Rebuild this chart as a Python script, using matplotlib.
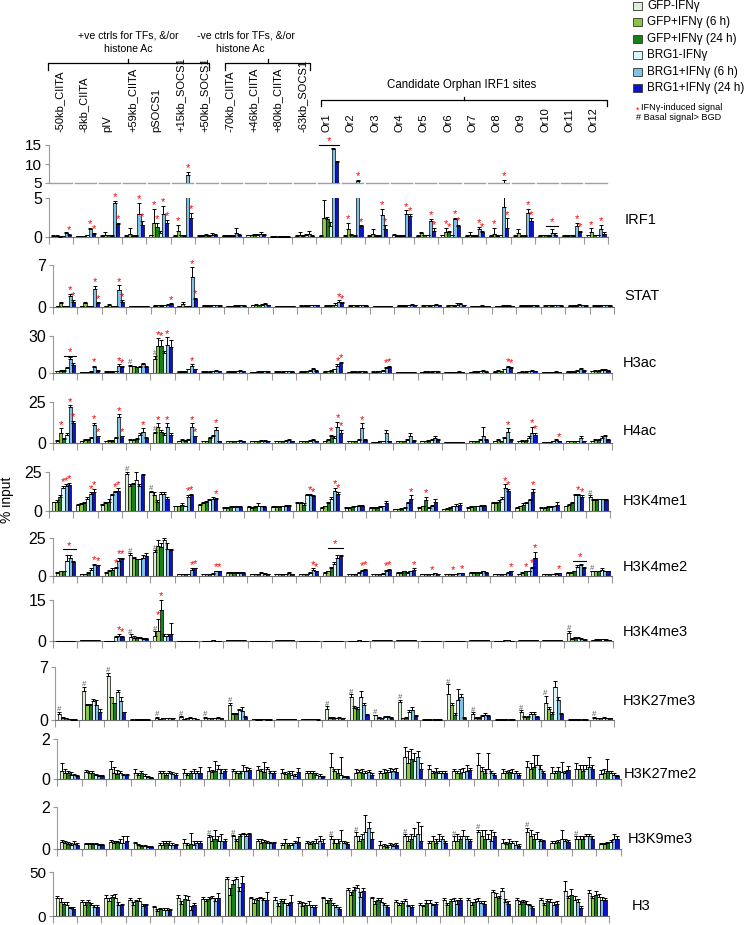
import numpy as np
import matplotlib.pyplot as plt
from matplotlib import font_manager
from matplotlib.patches import Rectangle

names = {f.name for f in font_manager.fontManager.ttflist}
narrow = 'Liberation Sans Narrow' if 'Liberation Sans Narrow' in names else 'Liberation Sans'
plt.rcParams['font.family'] = ['Liberation Sans', 'DejaVu Sans']

sites = ['-50kb_CIITA', '-8kb_CIITA', 'pIV', '+59kb_CIITA', 'pSOCS1', '+15kb_SOCS1', '+50kb_SOCS1',
         '-70kb_CIITA', '+46kb_CIITA', '+80kb_CIITA', '-63kb_SOCS1',
         'Or1', 'Or2', 'Or3', 'Or4', 'Or5', 'Or6', 'Or7', 'Or8', 'Or9', 'Or10', 'Or11', 'Or12']
conditions = ['GFP-IFNγ', 'GFP+IFNγ (6 h)', 'GFP+IFNγ (24 h)', 'BRG1-IFNγ', 'BRG1+IFNγ (6 h)', 'BRG1+IFNγ (24 h)']
colors = ['#dcf0d8', '#8cc63f', '#17801a', '#dcf4f7', '#80c2e6', '#0d14c8']

# each row = one site, 6 conditions
irf1_val = [[0.1,0.1,0.05,0.1,0.5,0.3],[0.1,0.1,0.1,0.2,1.0,0.4],[0.1,0.3,0.2,0.1,4.3,1.7],[0.1,0.4,0.1,0.1,3.0,1.5],
            [0.2,1.8,1.3,0.5,2.9,1.8],[0.1,0.8,0.2,0.1,7.0,2.5],[0.1,0.1,0.2,0.1,0.3,0.2],[0.1,0.1,0.1,0.1,0.5,0.2],
            [0.2,0.2,0.3,0.3,0.4,0.3],[0.05,0.05,0.05,0.05,0.05,0.05],[0.1,0.3,0.1,0.2,0.4,0.1],[0.1,2.4,2.3,1.4,14.0,10.5],
            [0.1,1.0,0.3,0.1,5.6,1.4],[0.1,0.4,0.1,0.1,2.8,1.0],[0.3,0.1,0.1,0.1,2.9,2.7],[0.1,0.5,0.2,0.2,2.0,0.8],
            [0.2,0.7,0.6,0.2,2.3,1.4],[0.1,0.3,0.1,0.1,1.0,0.6],[0.1,0.4,0.1,0.2,3.8,1.2],[0.1,0.5,0.1,0.1,3.1,2.1],
            [0.1,0.2,0.2,0.1,0.5,0.3],[0.1,0.1,0.2,0.1,1.4,0.6],[0.2,0.6,0.2,0.2,1.0,0.4]]
irf1_err = [[0.1,0.1,0.05,0.05,0.2,0.1],[0.05,0.05,0.05,0.1,0.2,0.1],[0.1,0.4,0.1,0.1,0.3,0.1],[0.1,0.7,0.1,0.1,1.4,0.6],
            [0.1,1.8,0.5,0.3,1.1,0.4],[0.1,0.8,0.1,0.1,0.9,0.6],[0.1,0.2,0.2,0.1,0.2,0.2],[0.1,0.1,0.1,0.1,0.7,0.2],
            [0.1,0.1,0.1,0.1,0.2,0.1],[0.02,0.02,0.02,0.02,0.02,0.02],[0.1,0.3,0.1,0.2,0.4,0.1],[0.1,2.4,0.3,0.5,0.3,0.3],
            [0.1,0.8,0.1,0.1,0.3,0.1],[0.1,0.6,0.1,0.1,0.8,0.5],[0.1,0.1,0.1,0.1,0.5,0.2],[0.1,0.2,0.1,0.1,0.3,0.3],
            [0.1,0.5,0.2,0.1,0.2,0.2],[0.1,0.3,0.1,0.1,0.3,0.2],[0.1,0.8,0.1,0.1,2.0,1.2],[0.1,0.5,0.1,0.1,0.5,0.3],
            [0.1,0.1,0.1,0.1,0.5,0.2],[0.1,0.1,0.1,0.1,0.4,0.2],[0.1,0.5,0.1,0.1,0.6,0.2]]
irf1_star = [(0,5),(1,4),(1,5),(2,4),(2,5),(3,4),(3,5),(4,1),(4,2),(4,4),(4,5),(5,1),(5,4),(5,5),(12,1),(12,4),(12,5),
             (13,4),(13,5),(14,4),(14,5),(15,4),(15,5),(16,1),(16,2),(16,4),(16,5),(17,4),(17,5),(18,1),(18,4),(18,5),
             (19,4),(19,5),(21,4),(21,5),(22,1),(22,4)]
irf1_sig = [(11,15.0,0.1),(20,1.4,0.45)]

stat_val = [[0.1,0.6,0.1,0.1,1.8,0.9],[0.1,0.6,0.1,0.1,3.0,0.6],[0.1,0.3,0.1,0.1,2.9,0.9],[0.1,0.1,0.1,0.1,0.1,0.1],
            [0.2,0.3,0.2,0.3,0.4,0.5],[0.1,0.5,0.1,0.1,5.0,1.3],[0.2,0.2,0.2,0.3,0.3,0.2],[0.1,0.1,0.2,0.2,0.3,0.2],
            [0.3,0.4,0.3,0.4,0.5,0.3],[0.1,0.1,0.1,0.1,0.1,0.1],[0.2,0.2,0.2,0.3,0.3,0.3],[0.2,0.2,0.3,0.4,0.8,0.6],
            [0.2,0.3,0.2,0.3,0.3,0.2],[0.1,0.1,0.1,0.1,0.1,0.1],[0.2,0.2,0.2,0.3,0.4,0.3],[0.2,0.3,0.2,0.3,0.4,0.3],
            [0.2,0.3,0.2,0.4,0.5,0.3],[0.1,0.1,0.1,0.2,0.1,0.1],[0.1,0.1,0.2,0.2,0.2,0.1],[0.2,0.2,0.2,0.2,0.3,0.2],
            [0.2,0.3,0.2,0.3,0.3,0.2],[0.2,0.2,0.2,0.4,0.3,0.2],[0.2,0.2,0.2,0.3,0.3,0.2]]
stat_err = [[0.05,0.2,0.05,0.05,0.4,0.3],[0.1,0.2,0.1,0.1,0.5,0.2],[0.1,0.2,0.1,0.1,0.7,0.2],[0.05,0.05,0.05,0.05,0.05,0.05],
            [0.1,0.1,0.1,0.1,0.1,0.1],[0.05,0.3,0.05,0.05,1.6,0.2],[0.1,0.1,0.1,0.1,0.1,0.1],[0.1,0.1,0.1,0.1,0.1,0.1],
            [0.1,0.1,0.1,0.1,0.1,0.1],[0.05,0.05,0.05,0.05,0.05,0.05],[0.1,0.1,0.1,0.1,0.1,0.1],[0.1,0.1,0.1,0.2,0.3,0.2],
            [0.1,0.1,0.1,0.1,0.1,0.1],[0.05,0.05,0.05,0.05,0.05,0.05],[0.1,0.1,0.1,0.1,0.1,0.1],[0.1,0.1,0.1,0.1,0.1,0.1],
            [0.1,0.1,0.1,0.2,0.2,0.1],[0.1,0.1,0.1,0.1,0.1,0.1],[0.1,0.1,0.1,0.1,0.1,0.1],[0.1,0.1,0.1,0.1,0.1,0.1],
            [0.1,0.1,0.1,0.1,0.1,0.1],[0.1,0.1,0.1,0.1,0.1,0.1],[0.1,0.1,0.1,0.1,0.1,0.1]]
stat_star = [(0,4),(0,5),(1,4),(1,5),(2,4),(2,5),(4,5),(5,4),(5,5),(11,4),(11,5)]

h3ac_val = [[1.5,1.8,2.0,4.0,11.0,6.5],[0.5,0.8,0.8,1.0,5.0,2.0],[1.0,1.0,1.2,1.5,6.0,5.0],[6.0,5.5,4.5,5.0,7.5,5.0],
            [11.0,22.0,22.0,16.0,23.0,21.0],[1.0,1.0,1.0,3.0,6.0,3.0],[1.0,1.0,1.0,1.5,2.0,1.5],[1.0,1.0,1.2,1.5,2.0,1.5],
            [0.8,0.8,1.0,1.2,1.5,1.2],[1.0,1.0,1.0,1.5,1.5,1.2],[1.0,1.0,1.5,2.0,3.0,2.0],[1.0,1.5,2.0,3.0,6.0,8.0],
            [0.8,1.0,1.0,1.2,1.5,1.2],[1.0,1.0,1.5,2.0,4.0,5.0],[0.5,0.5,0.5,0.8,0.8,0.8],[0.8,1.0,1.0,1.2,1.5,1.2],
            [0.5,0.5,0.5,0.8,1.0,0.8],[0.8,1.0,1.0,1.5,2.0,1.2],[1.0,2.0,1.5,3.0,5.0,4.0],[0.8,1.0,1.0,1.5,2.0,1.5],
            [0.5,0.5,0.5,0.8,1.0,0.8],[1.0,1.0,1.0,2.0,3.0,2.0],[1.5,2.0,2.0,2.5,2.5,2.0]]
h3ac_err = [[0.5,0.5,0.5,1.0,2.0,1.5],[0.3,0.3,0.3,0.3,1.0,0.5],[0.3,0.3,0.3,0.5,1.0,0.5],[0.5,0.5,0.5,0.5,0.8,0.5],
            [3.0,6.0,5.0,2.0,6.0,6.0],[0.3,0.3,0.3,0.5,1.0,0.5],[0.3,0.3,0.3,0.5,0.5,0.5],[0.3,0.3,0.3,0.5,0.5,0.5],
            [0.3,0.3,0.3,0.3,0.5,0.3],[0.3,0.3,0.3,0.5,0.5,0.3],[0.3,0.3,0.5,0.5,1.0,0.5],[0.3,0.5,0.5,0.5,1.0,1.0],
            [0.3,0.3,0.3,0.3,0.5,0.3],[0.3,0.3,0.5,0.5,0.8,0.8],[0.2,0.2,0.2,0.2,0.2,0.2],[0.3,0.3,0.3,0.3,0.5,0.3],
            [0.2,0.2,0.2,0.2,0.3,0.2],[0.3,0.3,0.3,0.5,0.5,0.3],[0.3,0.5,0.5,0.5,1.0,0.8],[0.3,0.3,0.3,0.5,0.5,0.5],
            [0.2,0.2,0.2,0.2,0.3,0.2],[0.3,0.3,0.3,0.5,1.0,0.5],[0.5,0.5,0.5,0.5,0.8,0.5]]
h3ac_star = [(1,4),(2,4),(2,5),(4,1),(4,2),(4,4),(5,4),(11,4),(11,5),(13,4),(13,5),(18,4),(18,5)]
h3ac_hash = [(3,0),(4,0)]
h3ac_sig = [(0,14.0,0.45)]

h4ac_val = [[1.5,6.0,2.5,5.0,22.0,12.0],[1.0,2.0,2.0,3.0,11.0,4.0],[1.0,1.5,1.5,3.0,16.0,4.0],[2.0,2.0,2.5,5.0,7.0,3.0],
            [6.0,10.0,7.0,5.0,10.0,5.0],[1.0,2.0,1.5,2.0,10.0,4.0],[1.0,1.0,3.0,4.0,8.0,1.0],[1.0,1.0,1.0,1.0,1.5,1.0],
            [1.0,1.0,1.0,1.5,1.5,1.0],[1.0,1.0,1.0,1.5,2.0,1.0],[1.0,1.0,1.0,1.5,2.0,1.0],[1.0,2.0,4.0,3.0,10.0,6.0],
            [1.0,1.0,1.0,2.0,9.0,2.0],[0.5,0.5,1.0,1.0,6.0,1.0],[1.0,1.0,1.0,2.0,4.0,1.5],[1.0,1.0,1.5,2.0,3.0,2.0],
            [0.5,0.5,0.5,0.5,0.5,0.5],[1.0,1.0,1.0,2.0,4.0,2.0],[1.0,2.0,1.0,3.0,7.0,2.0],[1.0,1.5,1.5,3.0,6.0,5.0],
            [0.5,0.5,0.5,1.0,2.0,1.0],[1.0,1.0,1.0,1.0,3.0,1.0],[1.0,2.0,2.0,3.0,4.0,2.0]]
h4ac_err = [[0.5,3.0,0.5,1.0,1.0,1.5],[0.5,0.5,0.5,0.5,1.5,0.5],[0.5,0.5,0.5,0.5,1.5,0.5],[0.5,0.5,0.5,1.0,2.0,0.5],
            [1.0,2.0,1.0,1.0,2.0,1.0],[0.5,0.5,0.5,0.5,2.0,0.5],[0.5,0.5,0.5,1.0,2.0,0.5],[0.5,0.5,0.5,0.5,0.5,0.5],
            [0.5,0.5,0.5,0.5,0.5,0.5],[0.5,0.5,0.5,0.5,0.5,0.5],[0.5,0.5,0.5,0.5,0.5,0.5],[0.5,0.5,1.0,1.0,3.0,2.0],
            [0.5,0.5,0.5,0.5,3.0,0.5],[0.3,0.3,0.3,0.3,2.0,0.3],[0.5,0.5,0.5,0.5,2.0,0.5],[0.5,0.5,0.5,0.5,1.0,0.5],
            [0.2,0.2,0.2,0.2,0.2,0.2],[0.5,0.5,0.5,0.5,6.0,0.5],[0.5,0.5,0.5,0.5,2.0,0.5],[0.5,0.5,0.5,1.0,4.0,1.0],
            [0.2,0.2,0.2,0.3,0.5,0.3],[0.3,0.3,0.3,0.3,1.0,0.3],[0.5,0.5,0.5,1.0,1.0,0.5]]
h4ac_star = [(0,1),(0,4),(0,5),(1,4),(1,5),(2,4),(2,5),(3,4),(4,1),(4,4),(5,4),(5,5),(6,4),(11,2),(11,4),(11,5),
             (12,4),(18,4),(19,4),(19,5),(20,5)]
h4ac_hash = [(4,0)]

h3k4me1_val = [[5.5,6.0,9.0,15.0,16.0,16.5],[4.0,4.5,5.0,8.0,11.0,12.0],[4.0,5.0,6.0,10.0,12.0,13.0],[24.0,16.0,17.0,20.0,16.0,23.0],
               [12.0,10.0,6.0,11.0,11.0,8.0],[3.0,3.0,4.0,3.0,9.0,10.0],[4.0,5.0,6.0,7.0,8.0,8.0],[2.0,2.0,2.5,2.5,2.5,2.5],
               [2.5,2.0,2.5,3.0,3.0,2.5],[2.5,2.5,2.5,3.0,3.5,3.5],[5.0,5.0,4.0,10.0,10.0,9.5],[2.0,3.0,5.0,8.0,13.0,11.0],
               [2.0,2.0,2.5,3.0,3.5,3.5],[2.0,2.0,2.0,2.5,3.0,5.0],[1.0,1.0,1.5,2.0,5.0,8.0],[2.0,3.0,7.0,2.0,3.0,6.0],
               [1.0,1.5,2.0,3.0,3.5,4.0],[2.0,2.5,3.0,3.0,3.5,3.5],[5.0,5.0,6.0,8.0,15.0,13.0],[2.0,3.0,4.0,5.0,7.0,12.0],
               [2.0,2.0,2.5,2.5,3.0,4.0],[3.0,4.0,5.0,10.0,10.0,9.0],[9.0,7.0,7.0,7.5,7.5,7.0]]
h3k4me1_err = [[0.5,1.0,1.5,1.0,1.0,1.5],[0.5,0.5,1.0,1.0,1.0,2.0],[0.5,1.0,2.0,1.0,1.0,1.5],[1.0,1.0,1.0,5.0,1.0,1.0],
               [1.0,2.0,1.0,1.0,1.5,1.0],[0.5,0.5,1.0,0.5,1.5,1.0],[0.5,0.5,0.5,0.5,1.0,0.5],[0.5,0.5,0.5,0.5,0.5,0.5],
               [0.5,0.5,0.5,2.0,0.5,0.5],[0.5,0.5,0.5,0.5,0.5,0.5],[0.5,0.5,1.0,1.0,1.0,0.5],[0.5,0.5,1.0,1.0,2.0,1.5],
               [0.5,0.5,0.5,0.5,0.5,0.5],[0.5,0.5,0.5,0.5,0.5,1.5],[0.3,0.3,0.3,0.5,1.0,2.0],[0.5,0.5,2.0,0.5,1.0,2.0],
               [0.3,0.3,0.5,0.5,1.0,1.0],[0.5,0.5,0.5,0.5,0.5,0.5],[0.5,0.5,1.0,1.0,2.0,1.0],[0.5,0.5,1.0,1.0,1.0,2.0],
               [0.5,0.5,0.5,0.5,0.5,1.5],[0.5,0.5,1.0,1.0,1.0,1.0],[1.0,0.5,0.5,0.5,0.5,0.5]]
h3k4me1_star = [(0,3),(0,4),(0,5),(1,4),(1,5),(2,4),(2,5),(5,4),(5,5),(6,5),(10,4),(10,5),(11,4),(11,5),(14,5),(15,2),
                (18,4),(18,5),(19,5),(21,4),(21,5)]
h3k4me1_hash = [(3,0),(4,0),(22,0)]

h3k4me2_val = [[2.0,3.0,3.0,10.0,12.0,9.0],[1.0,1.0,2.0,4.0,7.0,7.0],[2.0,3.0,4.0,5.0,10.0,11.0],[14.0,12.0,11.0,11.0,12.0,13.0],
               [16.0,20.0,19.0,24.0,18.0,17.0],[1.0,1.0,1.0,1.0,4.0,5.0],[1.0,1.0,1.0,1.5,3.0,3.0],[2.0,2.0,2.0,2.0,2.0,2.0],
               [1.0,1.0,1.0,2.0,1.5,1.0],[1.0,1.0,1.0,1.0,2.0,1.0],[1.0,1.0,1.0,2.0,4.0,3.0],[2.0,3.0,5.0,8.0,12.0,13.0],
               [1.0,1.0,1.0,2.0,3.0,4.0],[1.0,1.0,1.0,1.5,3.0,4.0],[2.0,2.0,3.0,2.0,3.0,4.0],[1.0,1.0,1.0,1.0,2.0,1.0],
               [1.0,1.0,1.0,1.0,2.0,2.0],[2.0,2.0,2.0,2.0,3.0,2.0],[1.0,1.0,1.0,1.0,2.0,3.0],[1.0,2.0,3.0,3.0,5.0,12.0],
               [1.0,1.0,1.0,1.0,1.5,2.0],[2.0,2.0,3.0,6.0,7.0,5.0],[3.0,3.0,3.0,4.0,3.0,3.0]]
h3k4me2_err = [[0.5,0.5,0.5,4.0,2.0,1.0],[0.3,0.3,0.5,1.0,1.0,0.5],[0.5,1.0,1.0,1.0,2.0,1.0],[1.0,0.5,0.5,0.5,2.0,2.0],
               [1.0,4.0,3.0,1.0,4.0,1.0],[0.2,0.2,0.2,0.2,1.0,0.5],[0.2,0.2,0.2,0.3,0.5,0.5],[0.5,0.5,0.5,0.5,0.5,0.5],
               [0.5,0.5,0.5,0.5,0.5,0.5],[0.5,0.5,0.5,0.5,0.5,0.5],[0.3,0.3,0.3,0.5,1.0,0.5],[0.5,0.5,1.0,1.0,2.0,1.0],
               [0.3,0.3,0.3,0.5,1.0,0.5],[0.3,0.3,0.3,0.3,1.0,0.5],[0.5,0.5,0.5,0.5,0.5,1.0],[0.3,0.3,0.3,0.3,0.3,0.3],
               [0.3,0.3,0.3,0.3,0.3,0.3],[0.5,0.5,0.5,0.5,0.5,0.5],[0.3,0.3,0.3,0.3,0.5,0.5],[0.3,0.5,0.5,0.5,1.0,4.0],
               [0.3,0.3,0.3,0.3,0.3,0.3],[0.5,0.5,0.5,1.0,1.0,1.0],[0.5,0.5,0.5,1.0,0.5,0.5]]
h3k4me2_star = [(1,4),(1,5),(2,3),(2,4),(2,5),(5,4),(5,5),(6,4),(6,5),(10,4),(10,5),(12,4),(12,5),(13,4),(13,5),
                (14,5),(15,3),(16,2),(16,5),(18,5),(19,2),(19,4),(19,5),(20,5)]
h3k4me2_hash = [(3,0),(4,0),(22,0)]
h3k4me2_sig = [(0,17.5,0.4),(11,18.5,0.3),(21,10.0,0.4)]

h3k4me3_val = [[0.1,0.1,0.1,0.1,0.1,0.1],[0.2,0.2,0.2,0.2,0.2,0.2],[0.1,0.1,0.1,1.5,2.0,1.5],[1.5,1.2,1.2,1.0,0.8,0.8],
               [2.0,3.5,11.5,2.0,2.0,2.5],[0.1,0.1,0.1,0.1,0.1,0.1],[0.1,0.1,0.1,0.2,0.1,0.1],[0.2,0.2,0.2,0.3,0.3,0.2],
               [0.1,0.1,0.1,0.1,0.1,0.1],[0.3,0.3,0.3,0.4,0.3,0.2],[0.1,0.1,0.1,0.1,0.1,0.1],[0.1,0.1,0.1,0.1,0.1,0.1],
               [0.1,0.1,0.1,0.2,0.1,0.1],[0.2,0.3,0.3,0.3,0.3,0.2],[0.2,0.2,0.2,0.3,0.2,0.2],[0.1,0.1,0.1,0.1,0.1,0.1],
               [0.1,0.1,0.1,0.1,0.1,0.1],[0.2,0.2,0.2,0.3,0.2,0.2],[0.1,0.1,0.1,0.2,0.2,0.1],[0.2,0.2,0.3,0.3,0.3,0.2],
               [0.2,0.3,0.3,0.3,0.4,0.2],[2.8,0.6,1.2,1.0,0.8,0.5],[0.4,0.5,0.5,0.6,0.5,0.4]]
h3k4me3_err = [[0.05,0.05,0.05,0.05,0.05,0.05],[0.05,0.05,0.05,0.05,0.05,0.05],[0.05,0.05,0.05,0.5,0.5,0.5],[1.0,0.5,0.3,0.3,0.2,0.2],
               [1.5,4.5,3.5,0.5,0.5,4.0],[0.05,0.05,0.05,0.05,0.05,0.05],[0.05,0.05,0.05,0.05,0.05,0.05],[0.1,0.1,0.1,0.1,0.1,0.1],
               [0.05,0.05,0.05,0.05,0.05,0.05],[0.1,0.1,0.1,0.1,0.1,0.1],[0.05,0.05,0.05,0.05,0.05,0.05],[0.05,0.05,0.05,0.05,0.05,0.05],
               [0.05,0.05,0.05,0.05,0.05,0.05],[0.1,0.1,0.1,0.1,0.1,0.1],[0.1,0.1,0.1,0.1,0.1,0.1],[0.05,0.05,0.05,0.05,0.05,0.05],
               [0.05,0.05,0.05,0.05,0.05,0.05],[0.1,0.1,0.1,0.1,0.1,0.1],[0.05,0.05,0.05,0.05,0.05,0.05],[0.1,0.1,0.1,0.1,0.1,0.1],
               [0.1,0.1,0.1,0.1,0.1,0.1],[1.0,0.5,0.3,0.3,0.2,0.2],[0.1,0.1,0.1,0.1,0.1,0.1]]
h3k4me3_star = [(2,4),(2,5),(4,1),(4,2)]
h3k4me3_hash = [(3,0),(4,0),(21,0)]

h3k27me3_val = [[0.8,0.3,0.2,0.1,0.05,0.05],[3.8,2.0,2.0,2.5,2.0,1.1],[5.8,3.0,2.2,3.7,2.5,1.0],[0.05,0.05,0.05,0.05,0.05,0.05],
                [0.3,0.1,0.2,0.2,0.2,0.2],[0.4,0.1,0.2,0.3,0.2,0.1],[0.3,0.2,0.2,0.2,0.3,0.2],[2.0,0.8,0.8,1.3,1.2,0.4],
                [0.1,0.05,0.05,0.1,0.05,0.05],[0.1,0.1,0.1,0.1,0.1,0.1],[0.1,0.1,0.1,0.15,0.1,0.05],[1.5,0.3,0.3,0.2,0.3,0.2],
                [3.0,1.6,1.5,3.0,2.0,0.7],[0.6,0.3,0.2,0.4,0.4,0.3],[2.4,0.2,0.3,1.0,1.3,0.5],[0.05,0.05,0.05,0.05,0.05,0.05],
                [3.5,2.0,0.7,2.7,3.1,0.3],[0.8,0.3,0.3,0.5,0.6,0.5],[0.05,0.05,0.05,0.05,0.05,0.05],[1.0,0.4,0.4,0.8,0.8,0.4],
                [2.3,1.5,0.8,4.4,2.7,0.8],[0.05,0.05,0.05,0.05,0.05,0.05],[0.3,0.2,0.2,0.3,0.2,0.2]]
h3k27me3_err = [[0.3,0.1,0.1,0.05,0.05,0.05],[0.6,0.1,0.1,0.3,0.6,0.3],[0.4,0.1,0.1,0.3,0.6,0.1],[0.02,0.02,0.02,0.02,0.02,0.02],
                [0.1,0.05,0.05,0.05,0.05,0.05],[0.1,0.05,0.05,0.1,0.05,0.05],[0.1,0.05,0.05,0.05,0.05,0.05],[0.3,0.1,0.1,0.2,0.5,0.1],
                [0.02,0.02,0.02,0.02,0.02,0.02],[0.02,0.02,0.02,0.02,0.02,0.02],[0.02,0.02,0.02,0.02,0.02,0.02],[0.3,0.1,0.1,0.1,0.1,0.1],
                [0.4,0.2,0.2,0.8,0.3,0.1],[0.1,0.05,0.05,0.1,0.1,0.05],[0.3,0.1,0.1,0.3,0.4,0.1],[0.02,0.02,0.02,0.02,0.02,0.02],
                [1.2,0.2,0.2,1.4,0.4,0.1],[0.2,0.1,0.1,0.2,0.3,0.1],[0.02,0.02,0.02,0.02,0.02,0.02],[0.3,0.1,0.1,0.2,0.2,0.1],
                [0.9,0.2,0.2,0.8,0.4,0.1],[0.02,0.02,0.02,0.02,0.02,0.02],[0.1,0.05,0.05,0.05,0.05,0.05]]
h3k27me3_hash = [(0,0),(1,0),(2,0),(4,0),(5,0),(6,0),(7,0),(11,0),(12,0),(13,0),(14,0),(16,0),(17,0),(19,0),(20,0),(22,0)]

h3k27me2_val = [[0.4,0.3,0.3,0.2,0.2,0.15],[0.35,0.3,0.3,0.2,0.15,0.15],[0.5,0.3,0.25,0.3,0.2,0.2],[0.3,0.2,0.3,0.15,0.1,0.05],
                [0.3,0.3,0.2,0.3,0.25,0.2],[0.3,0.2,0.3,0.3,0.3,0.3],[0.4,0.35,0.4,0.5,0.3,0.4],[0.4,0.3,0.3,0.4,0.4,0.45],
                [0.45,0.4,0.35,0.5,0.3,0.3],[0.3,0.25,0.3,0.2,0.15,0.35],[0.3,0.3,0.3,0.2,0.15,0.1],[0.6,0.4,0.3,0.2,0.1,0.1],
                [0.3,0.35,0.3,0.3,0.35,0.2],[0.3,0.3,0.35,0.35,0.4,0.35],[1.1,0.8,1.0,0.9,1.1,0.5],[0.5,0.3,0.35,0.3,0.3,0.3],
                [0.4,0.3,0.3,0.35,0.4,0.45],[0.7,0.4,0.3,0.5,0.3,0.2],[0.3,0.3,0.35,0.3,0.3,0.2],[0.6,0.5,0.6,0.7,0.5,0.3],
                [0.3,0.3,0.4,0.35,0.3,0.45],[0.5,0.5,0.4,0.5,0.6,0.5],[0.25,0.3,0.4,0.3,0.2,0.15]]
h3k27me2_err = [[0.4,0.2,0.1,0.15,0.05,0.05],[0.1,0.1,0.1,0.05,0.05,0.05],[0.4,0.3,0.2,0.1,0.05,0.05],[0.2,0.1,0.1,0.1,0.05,0.05],
                [0.1,0.1,0.1,0.1,0.1,0.1],[0.2,0.1,0.1,0.2,0.1,0.3],[0.2,0.1,0.5,0.2,0.2,0.1],[0.1,0.1,0.1,0.3,0.2,0.1],
                [0.2,0.1,0.5,0.1,0.1,0.1],[0.2,0.1,0.1,0.2,0.1,0.2],[0.1,0.1,0.1,0.1,0.1,0.05],[0.7,0.1,0.2,0.9,0.05,0.05],
                [0.2,0.1,0.2,0.1,0.1,0.1],[0.1,0.2,0.1,0.2,0.1,0.2],[0.5,0.6,0.5,0.4,0.3,0.3],[0.2,0.1,0.2,0.1,0.1,0.1],
                [0.1,0.1,0.2,0.2,0.3,0.1],[0.6,0.2,0.2,0.8,0.1,0.1],[0.2,0.1,0.1,0.2,0.1,0.1],[0.3,0.3,0.6,0.5,0.2,0.1],
                [0.3,0.1,0.2,0.5,0.1,0.2],[0.3,0.2,0.3,0.2,0.5,0.2],[0.2,0.2,0.6,0.1,0.1,0.05]]

h3k9me3_val = [[0.35,0.3,0.25,0.2,0.25,0.2],[0.25,0.25,0.25,0.25,0.2,0.2],[0.35,0.3,0.35,0.3,0.3,0.4],[0.3,0.2,0.15,0.15,0.1,0.1],
               [0.2,0.2,0.3,0.2,0.2,0.2],[0.3,0.2,0.25,0.2,0.3,0.3],[0.55,0.4,0.5,0.4,0.4,0.4],[0.6,0.4,0.6,0.7,0.6,0.7],
               [0.4,0.3,0.35,0.3,0.3,0.3],[0.2,0.3,0.2,0.2,0.3,0.35],[0.3,0.25,0.3,0.3,0.4,0.3],[0.5,0.3,0.3,0.4,0.3,0.25],
               [0.6,0.4,0.5,0.8,1.0,0.5],[0.2,0.15,0.1,0.2,0.15,0.2],[0.6,0.4,0.5,0.6,0.7,0.4],[0.3,0.4,0.3,0.4,0.5,0.3],
               [0.4,0.4,0.5,0.6,0.5,0.4],[0.8,0.6,0.5,0.5,0.4,0.6],[0.3,0.25,0.3,0.3,0.2,0.15],[0.8,0.6,0.5,0.5,0.4,0.4],
               [0.3,0.3,0.35,0.5,0.4,0.35],[0.5,0.5,0.5,0.6,0.6,0.5],[0.25,0.25,0.3,0.35,0.5,0.5]]
h3k9me3_err = [[0.1,0.1,0.1,0.1,0.15,0.1],[0.05,0.05,0.05,0.05,0.05,0.05],[0.1,0.1,0.05,0.2,0.3,0.2],[0.05,0.05,0.05,0.05,0.05,0.05],
               [0.1,0.2,0.1,0.2,0.1,0.05],[0.2,0.1,0.5,0.2,0.1,0.1],[0.1,0.2,0.4,0.2,0.3,0.1],[0.05,0.1,0.1,0.05,0.1,0.05],
               [0.1,0.2,0.1,0.1,0.05,0.05],[0.1,0.2,0.1,0.1,0.1,0.2],[0.1,0.1,0.1,0.2,0.2,0.2],[0.1,0.2,0.2,0.5,0.1,0.1],
               [0.2,0.2,0.2,0.8,0.3,0.3],[0.2,0.1,0.1,0.1,0.1,0.1],[0.1,0.2,0.2,0.4,0.6,0.7],[0.1,0.2,0.2,0.3,0.1,0.1],
               [0.2,0.3,0.1,0.3,0.1,0.1],[0.1,0.3,0.4,0.2,0.5,0.2],[0.2,0.1,0.2,0.1,0.2,0.1],[0.2,0.3,0.2,0.3,0.1,0.05],
               [0.1,0.1,0.1,0.4,0.1,0.1],[0.1,0.1,0.1,0.1,0.1,0.1],[0.05,0.05,0.05,0.1,0.2,0.1]]
h3k9me3_hash = [(6,0),(7,0),(11,0),(12,0),(14,0),(16,0),(17,0),(19,0),(21,0)]

h3_val = [[20,16,14,12,9,8],[16,13,16,13,10,10],[20,17,22,21,13,12],[18,13,17,17,11,12],[10,6,8,7,7,7],
          [21,14,19,18,7,13],[19,17,19,21,17,20],[42,24,36,42,28,37],[20,15,18,20,18,18],[18,11,17,15,13,16],
          [15,11,13,13,10,10],[20,15,18,13,10,8],[30,24,30,32,22,28],[20,14,18,16,12,10],[16,12,15,17,11,10],
          [13,11,15,15,12,14],[18,13,17,17,14,18],[18,13,16,17,15,14],[27,22,20,28,16,14],[18,14,16,14,12,9],
          [18,12,17,16,13,14],[28,20,24,18,16,9],[26,20,24,22,18,18]]
h3_err = [[3,4,2,4,1,2],[2,3,2,2,2,3],[4,3,2,4,3,2],[2,3,1,4,3,2],[1,2,1,2,2,1],
          [3,3,5,5,4,2],[3,2,3,2,3,6],[2,8,5,2,5,9],[2,4,3,2,3,9],[4,4,2,4,2,8],
          [2,5,2,4,3,2],[2,3,2,2,2,2],[2,3,3,3,5,4],[2,3,2,4,3,2],[2,3,2,2,2,2],
          [2,2,3,3,2,2],[3,2,2,4,4,3],[3,3,3,4,2,3],[3,4,3,4,3,3],[2,3,2,3,2,2],
          [2,3,2,3,3,3],[12,3,7,5,3,2],[4,3,4,3,4,3]]

W, H = 745, 925
fig = plt.figure(figsize=(W / 100, H / 100), dpi=100)
ov = fig.add_axes([0, 0, 1, 1])
ov.set_xlim(0, W)
ov.set_ylim(H, 0)
ov.axis('off')

n = len(sites)
bw = 0.13
off0 = 0.185
star_size = 8


def bar_x(s, j):
    return s + off0 + j * bw


def panel_ax(x0, x1, ytop, ybase):
    ax = fig.add_axes([x0 / W, 1 - ybase / H, (x1 - x0) / W, (ybase - ytop) / H])
    ax.patch.set_alpha(0)
    ax.spines['top'].set_visible(False)
    ax.spines['right'].set_visible(False)
    ax.spines['left'].set_color('#9a9a9a')
    ax.spines['bottom'].set_color('#707070')
    ax.set_xlim(0, n)
    ax.set_xticks(np.arange(n + 1))
    ax.tick_params(axis='x', length=5, color='#9a9a9a', labelbottom=False)
    ax.tick_params(axis='y', length=3, color='#9a9a9a', labelsize=11.5, pad=2)
    return ax


def draw_bars(ax, vals, errs):
    v = np.array(vals, dtype=float)
    e = np.array(errs, dtype=float)
    for j in range(6):
        x = np.arange(n) + off0 + j * bw
        ax.bar(x, v[:, j], bw, color=colors[j], edgecolor='black', linewidth=0.5, zorder=2)
        ax.errorbar(x, v[:, j], yerr=[np.zeros(n), e[:, j]], fmt='none', ecolor='black',
                    elinewidth=0.7, capsize=1.5, capthick=0.7, zorder=3)


def marks(ax, vals, errs, pairs, sym, color, size, keep=lambda t: True):
    for s, j in pairs:
        top = vals[s][j] + errs[s][j]
        if keep(top):
            ax.annotate(sym, (bar_x(s, j), top), xytext=(0, -1), textcoords='offset points', ha='center',
                        va='bottom', color=color, fontsize=size, annotation_clip=False, zorder=4)


def sig_lines(ax, items):
    for s, y, start in items:
        ax.plot([s + start, s + 0.94], [y, y], color='black', lw=0.8, clip_on=False, zorder=4)
        ax.annotate('*', (s + (start + 0.94) / 2, y), xytext=(0, -1), textcoords='offset points', ha='center',
                    va='bottom', color='red', fontsize=star_size, annotation_clip=False)


# IRF1 with broken axis
ax_t = panel_ax(49, 608, 145, 183)
draw_bars(ax_t, irf1_val, irf1_err)
ax_t.set_ylim(5, 15)
ax_t.set_yticks([5, 10, 15])
ax_t.spines['bottom'].set_visible(False)
ax_t.tick_params(axis='x', length=0)
ax_t.tick_params(axis='y', labelsize=11)
for s in range(n):
    ax_t.plot([s + 0.06, s + 0.94], [5, 5], color='#a0a0a0', lw=1.0, zorder=1, clip_on=False)
marks(ax_t, irf1_val, irf1_err, irf1_star, '*', 'red', star_size, keep=lambda t: t > 5)
sig_lines(ax_t, [it for it in irf1_sig if it[1] > 5])

ax_b = panel_ax(49, 608, 198, 237)
draw_bars(ax_b, irf1_val, irf1_err)
ax_b.set_ylim(0, 5)
ax_b.set_yticks([0, 5])
marks(ax_b, irf1_val, irf1_err, irf1_star, '*', 'red', star_size, keep=lambda t: t <= 5)
sig_lines(ax_b, [it for it in irf1_sig if it[1] <= 5])
fig.text(625 / W, 1 - 220 / H, 'IRF1', fontsize=10.5, va='center')

panels = [
    ('STAT', stat_val, stat_err, stat_star, [], [], 7, 53, 614, 265, 307, 624, 296),
    ('H3ac', h3ac_val, h3ac_err, h3ac_star, h3ac_hash, h3ac_sig, 30, 53, 612, 336, 373, 623, 363),
    ('H4ac', h4ac_val, h4ac_err, h4ac_star, h4ac_hash, [], 25, 53, 612, 402, 443, 623, 431),
    ('H3K4me1', h3k4me1_val, h3k4me1_err, h3k4me1_star, h3k4me1_hash, [], 25, 49, 610, 472, 511, 623, 501),
    ('H3K4me2', h3k4me2_val, h3k4me2_err, h3k4me2_star, h3k4me2_hash, h3k4me2_sig, 25, 53, 612, 538, 576, 623, 567),
    ('H3K4me3', h3k4me3_val, h3k4me3_err, h3k4me3_star, h3k4me3_hash, [], 15, 53, 613, 600, 641, 623, 632),
    ('H3K27me3', h3k27me3_val, h3k27me3_err, [], h3k27me3_hash, [], 7, 55, 614, 667, 720, 623, 701),
    ('H3K27me2', h3k27me2_val, h3k27me2_err, [], [], [], 2, 57, 621, 739, 779, 624, 774),
    ('H3K9me3', h3k9me3_val, h3k9me3_err, [], h3k9me3_hash, [], 2, 57, 621, 807, 849, 628, 839),
    ('H3', h3_val, h3_err, [], [], [], 50, 53, 609, 872, 916, 632, 906),
]

for name, vals, errs, stars, hashes, sigs, top, x0, x1, ytop, ybase, lx, ly in panels:
    ax = panel_ax(x0, x1, ytop, ybase)
    draw_bars(ax, vals, errs)
    ax.set_ylim(0, top)
    ax.set_yticks([0, top])
    marks(ax, vals, errs, stars, '*', 'red', star_size)
    marks(ax, vals, errs, hashes, '#', '#555555', 5.5)
    sig_lines(ax, sigs)
    fig.text(lx / W, 1 - ly / H, name, fontsize=10.5, va='center')
    if name == 'H3':
        ax.tick_params(axis='y', labelsize=11)

fig.text(7 / W, 1 - 500 / H, '% input', rotation=90, fontsize=10, ha='center', va='center')

# site labels along the top
for i, lab in enumerate(sites):
    xc = 49 + (i + 0.5) * (608 - 49) / n - 2
    ov.text(xc, 132, lab, rotation=90, ha='center', va='bottom', fontsize=8, family=[narrow, 'DejaVu Sans'])


def bracket(xa, xb, y, xm, drop=7, rise=4):
    ov.plot([xa, xa, xb, xb], [y + drop, y, y, y + drop], color='black', lw=0.9)
    ov.plot([xm, xm], [y, y - rise], color='black', lw=0.9)


bracket(48, 209, 63, 128)
bracket(225, 310, 63, 268)
bracket(321, 607, 100, 464, drop=6, rise=3)
ov.text(128, 35, '+ve ctrls for TFs, &/or', ha='center', va='center', fontsize=7.6, family=[narrow, 'DejaVu Sans'])
ov.text(128, 49, 'histone Ac', ha='center', va='center', fontsize=7.6, family=[narrow, 'DejaVu Sans'])
ov.text(246, 35, '-ve ctrls for TFs, &/or', ha='center', va='center', fontsize=7.6, family=[narrow, 'DejaVu Sans'])
ov.text(240, 49, 'histone Ac', ha='center', va='center', fontsize=7.6, family=[narrow, 'DejaVu Sans'])
ov.text(462, 85, 'Candidate Orphan IRF1 sites', ha='center', va='center', fontsize=8.3, family=[narrow, 'DejaVu Sans'])

# legend
for i, (lab, c) in enumerate(zip(conditions, colors)):
    y = 6 + i * 16.4
    ov.add_patch(Rectangle((633, y - 4), 9, 8, facecolor=c, edgecolor='#333333', lw=0.6))
    ov.text(647, y, lab, va='center', fontsize=8.4)
ov.text(636, 110, '*', color='red', fontsize=6.5, va='center')
ov.text(641, 108, 'IFNγ-induced signal', fontsize=6.6, va='center')
ov.text(636, 118, '# Basal signal> BGD', fontsize=6.6, va='center')

fig.savefig('out.png', dpi=100)
